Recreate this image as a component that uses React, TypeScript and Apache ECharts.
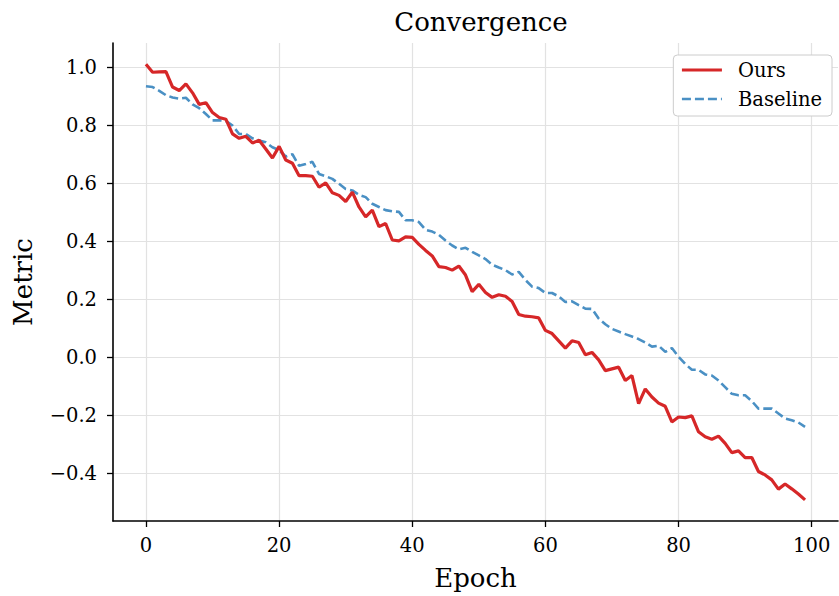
import React, { useEffect, useRef } from "react";
import * as echarts from "echarts";

const epochs: number[] = Array.from({ length: 100 }, (_, i) => i);

const ours: number[] = [
  1.012, 0.984, 0.985, 0.986, 0.933, 0.921, 0.944, 0.913, 0.873, 0.879,
  0.845, 0.828, 0.822, 0.771, 0.756, 0.763, 0.740, 0.749, 0.719, 0.688,
  0.728, 0.681, 0.670, 0.627, 0.627, 0.625, 0.587, 0.602, 0.568, 0.559,
  0.538, 0.570, 0.519, 0.485, 0.508, 0.451, 0.462, 0.405, 0.402, 0.416,
  0.414, 0.390, 0.369, 0.350, 0.313, 0.310, 0.301, 0.315, 0.284, 0.227,
  0.252, 0.224, 0.207, 0.216, 0.211, 0.193, 0.148, 0.142, 0.140, 0.136,
  0.093, 0.082, 0.057, 0.032, 0.057, 0.051, 0.009, 0.017, -0.009, -0.046,
  -0.040, -0.034, -0.080, -0.063, -0.160, -0.109, -0.137, -0.158, -0.169, -0.223,
  -0.206, -0.208, -0.202, -0.257, -0.274, -0.283, -0.272, -0.297, -0.329, -0.323,
  -0.346, -0.346, -0.394, -0.406, -0.423, -0.455, -0.437, -0.454, -0.472, -0.492,
];

const baseline: number[] = [
  0.936, 0.933, 0.920, 0.905, 0.897, 0.893, 0.896, 0.873, 0.860, 0.840,
  0.818, 0.818, 0.816, 0.800, 0.771, 0.771, 0.756, 0.748, 0.742, 0.725,
  0.715, 0.693, 0.701, 0.661, 0.667, 0.675, 0.633, 0.625, 0.616, 0.599,
  0.581, 0.576, 0.561, 0.553, 0.530, 0.519, 0.508, 0.504, 0.502, 0.473,
  0.473, 0.467, 0.440, 0.434, 0.423, 0.403, 0.386, 0.373, 0.378, 0.364,
  0.352, 0.339, 0.320, 0.310, 0.301, 0.286, 0.295, 0.267, 0.244, 0.239,
  0.222, 0.222, 0.210, 0.191, 0.193, 0.180, 0.168, 0.167, 0.134, 0.114,
  0.098, 0.089, 0.080, 0.072, 0.063, 0.051, 0.037, 0.040, 0.019, 0.032,
  0.002, -0.023, -0.043, -0.043, -0.059, -0.063, -0.080, -0.103, -0.126, -0.131,
  -0.131, -0.151, -0.177, -0.177, -0.177, -0.194, -0.211, -0.217, -0.225, -0.240,
];

const xTicks: number[] = [0, 20, 40, 60, 80, 100];
const yTicks: number[] = [-0.4, -0.2, 0.0, 0.2, 0.4, 0.6, 0.8, 1.0];

const FONT = "DejaVu Serif";

export default function App() {
  const ref = useRef<HTMLDivElement>(null);

  useEffect(() => {
    if (!ref.current) return;
    const chart = echarts.init(ref.current, undefined, { renderer: "svg" });
    const axisCommon = {
      axisLine: { show: true, onZero: false, lineStyle: { color: "#000", width: 1.6 } },
      axisTick: { show: true, length: 6, lineStyle: { color: "#000", width: 1.3 } },
      splitLine: { show: true, lineStyle: { color: "#e2e2e2", width: 1.2 } },
    };
    chart.setOption({
      animation: false,
      backgroundColor: "#ffffff",
      title: {
        text: "Convergence",
        left: 476,
        top: 4,
        textAlign: "center",
        textStyle: { fontFamily: FONT, fontSize: 26, fontWeight: "normal", color: "#000" },
      },
      legend: {
        orient: "vertical",
        right: 7,
        top: 55,
        itemWidth: 40,
        itemHeight: 14,
        itemGap: 9,
        padding: [5, 10, 7, 7],
        borderColor: "#cccccc",
        borderWidth: 1,
        borderRadius: 4,
        backgroundColor: "#ffffff",
        itemStyle: { opacity: 0 },
        textStyle: { fontFamily: FONT, fontSize: 19.5, color: "#000", padding: [0, 0, 0, 11] },
        data: [
          { name: "Ours", lineStyle: { width: 3.2, color: "#d62728" } },
          { name: "Baseline", lineStyle: { width: 2.6, color: "#4a90c4", type: [9, 4] } },
        ],
      },
      grid: { left: 113, right: 1, top: 43, bottom: 73, containLabel: false },
      xAxis: {
        type: "value",
        min: -4.95,
        max: 103.95,
        name: "Epoch",
        nameLocation: "middle",
        nameGap: 44,
        nameTextStyle: { fontFamily: FONT, fontSize: 26, color: "#000" },
        ...axisCommon,
        axisTick: { ...axisCommon.axisTick, customValues: xTicks },
        axisLabel: {
          customValues: xTicks,
          fontFamily: FONT,
          fontSize: 19.5,
          color: "#000",
          margin: 14,
        },
      },
      yAxis: {
        type: "value",
        min: -0.565,
        max: 1.085,
        name: "Metric",
        nameLocation: "middle",
        nameGap: 77,
        nameTextStyle: { fontFamily: FONT, fontSize: 26, color: "#000" },
        ...axisCommon,
        axisTick: { ...axisCommon.axisTick, customValues: yTicks },
        axisLabel: {
          customValues: yTicks,
          fontFamily: FONT,
          fontSize: 19.5,
          color: "#000",
          margin: 16,
          formatter: (v: number) => {
            const s = Math.abs(v).toFixed(1);
            return v < -1e-9 ? "\u2212" + s : s;
          },
        },
      },
      series: [
        {
          name: "Ours",
          type: "line",
          data: epochs.map((e, i) => [e, ours[i]]),
          showSymbol: false,
          symbol: "none",
          lineStyle: { color: "#d62728", width: 3.2 },
          itemStyle: { color: "#d62728" },
          z: 3,
        },
        {
          name: "Baseline",
          type: "line",
          data: epochs.map((e, i) => [e, baseline[i]]),
          showSymbol: false,
          symbol: "none",
          lineStyle: { color: "#4a90c4", width: 2.6, type: [9, 4] },
          itemStyle: { color: "#4a90c4" },
          z: 2,
        },
      ],
    });
    return () => chart.dispose();
  }, []);

  return (
    <div
      ref={ref}
      style={{ position: "fixed", left: 0, top: 0, width: 839, height: 596, background: "#fff" }}
    />
  );
}
